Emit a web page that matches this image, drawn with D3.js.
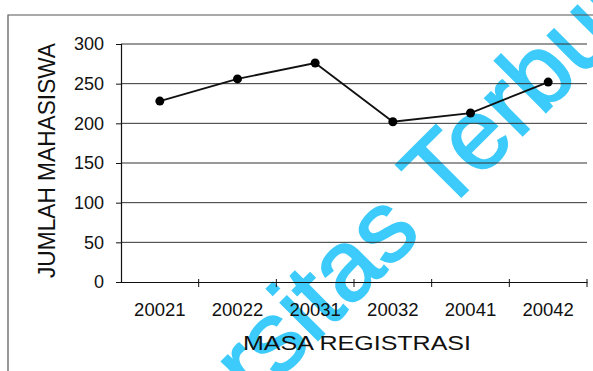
<!DOCTYPE html>
<html>
<head>
<meta charset="utf-8">
<script src="https://cdn.jsdelivr.net/npm/d3@7"></script>
<style>
  body { margin: 0; background: #fff; }
  svg { display: block; }
</style>
</head>
<body>
<div id="chart-area"></div>
<script>
// data
var periods  = ["20021", "20022", "20031", "20032", "20041", "20042"];
var students = [228, 256, 276, 202, 213, 252];
var yTicks   = [0, 50, 100, 150, 200, 250, 300];

var svgWidth = 593, svgHeight = 371;
var margin = { top: 44, left: 121, bottom: 89, right: 6 };

var svg = d3.select("#chart-area")
            .append("svg")
            .attr("width", svgWidth)
            .attr("height", svgHeight);

// watermark sits under the chart
var wm = svg.append("g")
            .attr("transform", "translate(443,215) rotate(-45)")
            .attr("font-family", "Arial, 'Liberation Sans', sans-serif")
            .attr("font-size", "100px")
            .attr("fill", "#3ccbfb")
            .attr("stroke", "#3ccbfb")
            .attr("stroke-width", 2);
wm.append("text").attr("text-anchor", "end").text("Universitas\u00a0");
wm.append("text").attr("text-anchor", "start").text("Terbuka");

// outer frame of the scanned chart
svg.append("path")
   .attr("d", "M8,371 V15 H593")
   .attr("fill", "none")
   .attr("stroke", "#555")
   .attr("stroke-width", 1.2);

var x = d3.scaleBand()
          .domain(periods)
          .range([margin.left, svgWidth - margin.right])
          .padding(0);

var y = d3.scaleLinear()
          .domain([0, 300])
          .range([svgHeight - margin.bottom, margin.top]);

// gridlines
svg.append("g")
   .selectAll("line")
   .data(yTicks.filter(function(d) { return d > 0; }))
   .enter()
   .append("line")
   .attr("x1", margin.left)
   .attr("x2", svgWidth - margin.right)
   .attr("y1", function(d) { return y(d); })
   .attr("y2", function(d) { return y(d); })
   .attr("stroke", "#333")
   .attr("stroke-width", 1);

// y axis
var yAxis = d3.axisLeft(y).tickValues(yTicks).tickSize(5).tickPadding(12);
var yg = svg.append("g")
   .attr("transform", "translate(" + margin.left + ",0)")
   .call(yAxis);
yg.select(".domain").attr("stroke", "#111").attr("stroke-width", 1.2);
yg.selectAll(".tick line").attr("stroke", "#111");
yg.selectAll(".tick text")
  .attr("font-family", "Arial, 'Liberation Sans', sans-serif")
  .attr("font-size", "18px")
  .attr("fill", "#111");

// x axis
var xAxis = d3.axisBottom(x).tickSize(0).tickPadding(21);
var xg = svg.append("g")
   .attr("transform", "translate(0," + y(0) + ")")
   .call(xAxis);
xg.select(".domain").attr("stroke", "#111").attr("stroke-width", 1.2);
xg.selectAll(".tick text")
  .attr("font-family", "Arial, 'Liberation Sans', sans-serif")
  .attr("font-size", "18.5px")
  .attr("fill", "#111");

// ticks between categories
xg.selectAll(".sep")
  .data(periods)
  .enter()
  .append("line")
  .attr("class", "sep")
  .attr("x1", function(d) { return x(d) + x.bandwidth(); })
  .attr("x2", function(d) { return x(d) + x.bandwidth(); })
  .attr("y1", -3)
  .attr("y2", 5)
  .attr("stroke", "#111");

// line and markers
var line = d3.line()
             .x(function(d, i) { return x(periods[i]) + x.bandwidth() / 2; })
             .y(function(d) { return y(d); });

svg.append("path")
   .datum(students)
   .attr("d", line)
   .attr("fill", "none")
   .attr("stroke", "#111")
   .attr("stroke-width", 1.8);

svg.selectAll(".dot")
   .data(students)
   .enter()
   .append("circle")
   .attr("class", "dot")
   .attr("cx", function(d, i) { return x(periods[i]) + x.bandwidth() / 2; })
   .attr("cy", function(d) { return y(d); })
   .attr("r", 4.5)
   .attr("fill", "#000");

// axis titles
svg.append("text")
   .attr("transform", "translate(55,160.5) rotate(-90)")
   .attr("text-anchor", "middle")
   .attr("font-family", "Arial, 'Liberation Sans', sans-serif")
   .attr("font-size", "23px")
   .attr("textLength", 235)
   .attr("lengthAdjust", "spacingAndGlyphs")
   .attr("fill", "#111")
   .text("JUMLAH MAHASISWA");

svg.append("text")
   .attr("x", 357)
   .attr("y", 350)
   .attr("text-anchor", "middle")
   .attr("font-family", "Arial, 'Liberation Sans', sans-serif")
   .attr("font-size", "21px")
   .attr("textLength", 228)
   .attr("lengthAdjust", "spacingAndGlyphs")
   .attr("fill", "#111")
   .text("MASA REGISTRASI");
</script>
</body>
</html>
